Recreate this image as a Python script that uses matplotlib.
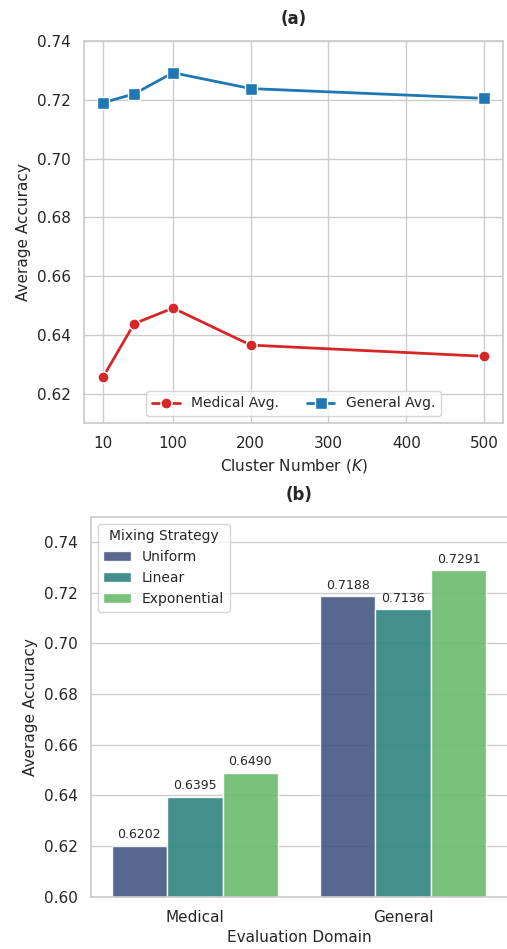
import matplotlib
matplotlib.use("Agg")
import matplotlib.pyplot as plt
import seaborn as sns
import pandas as pd

# (a) cluster number sweep
clusters = [10, 50, 100, 200, 500]
medical_avg = [0.6256, 0.6438, 0.6491, 0.6365, 0.6327]
general_avg = [0.7190, 0.7220, 0.7292, 0.7238, 0.7205]
cluster_ticks = [10, 100, 200, 300, 400, 500]

# (b) mixing strategies
domains = ["Medical", "General"]
strategies = ["Uniform", "Linear", "Exponential"]
medical_acc = [0.6202, 0.6395, 0.6490]
general_acc = [0.7188, 0.7136, 0.7291]

sns.set_theme(style="whitegrid")
plt.rcParams['font.family'] = ['DejaVu Sans']

fig = plt.figure(figsize=(5.07, 9.49), dpi=100)
ax1 = fig.add_axes([0.1657, 0.5543, 0.8264, 0.4025])
ax2 = fig.add_axes([0.1789, 0.0551, 0.8217, 0.4004])

# --- top plot
ax1.plot(clusters, medical_avg, color='#d62728', marker='o', markersize=8,
         markeredgecolor='white', markeredgewidth=1, linewidth=2, label='Medical Avg.')
ax1.plot(clusters, general_avg, color='#1f77b4', marker='s', markersize=8,
         markeredgecolor='white', markeredgewidth=1, linewidth=2, label='General Avg.')
ax1.set_ylim(0.61, 0.74)
ax1.set_yticks([0.62, 0.64, 0.66, 0.68, 0.70, 0.72, 0.74])
ax1.set_xticks(cluster_ticks)
ax1.tick_params(labelsize=11)
ax1.set_xlabel('Cluster Number ($K$)', fontsize=11)
ax1.set_ylabel('Average Accuracy', fontsize=11)
ax1.set_title('(a)', fontweight='bold', fontsize=12, pad=12)
ax1.legend(loc='lower center', ncol=2, fontsize=10)

# --- bottom plot
df = pd.DataFrame({
    'Domain': [d for d in domains for _ in strategies],
    'Strategy': strategies * len(domains),
    'Accuracy': medical_acc + general_acc,
})
sns.barplot(data=df, x='Domain', y='Accuracy', hue='Strategy', palette='viridis',
            alpha=0.9, ax=ax2, edgecolor='white', linewidth=1)
for c in ax2.containers:
    ax2.bar_label(c, fmt='%.4f', fontsize=9, padding=3)
ax2.set_ylim(0.60, 0.75)
ax2.set_yticks([0.60, 0.62, 0.64, 0.66, 0.68, 0.70, 0.72, 0.74])
ax2.tick_params(labelsize=11)
ax2.set_xlabel('Evaluation Domain', fontsize=11)
ax2.set_ylabel('Average Accuracy', fontsize=11)
ax2.set_title('(b)', fontweight='bold', fontsize=12, pad=12)
ax2.legend(title='Mixing Strategy', loc='upper left', fontsize=10, title_fontsize=10)
# right edge is cut off in the original figure
ax2.spines['right'].set_visible(False)

fig.savefig('out.png', dpi=100)
